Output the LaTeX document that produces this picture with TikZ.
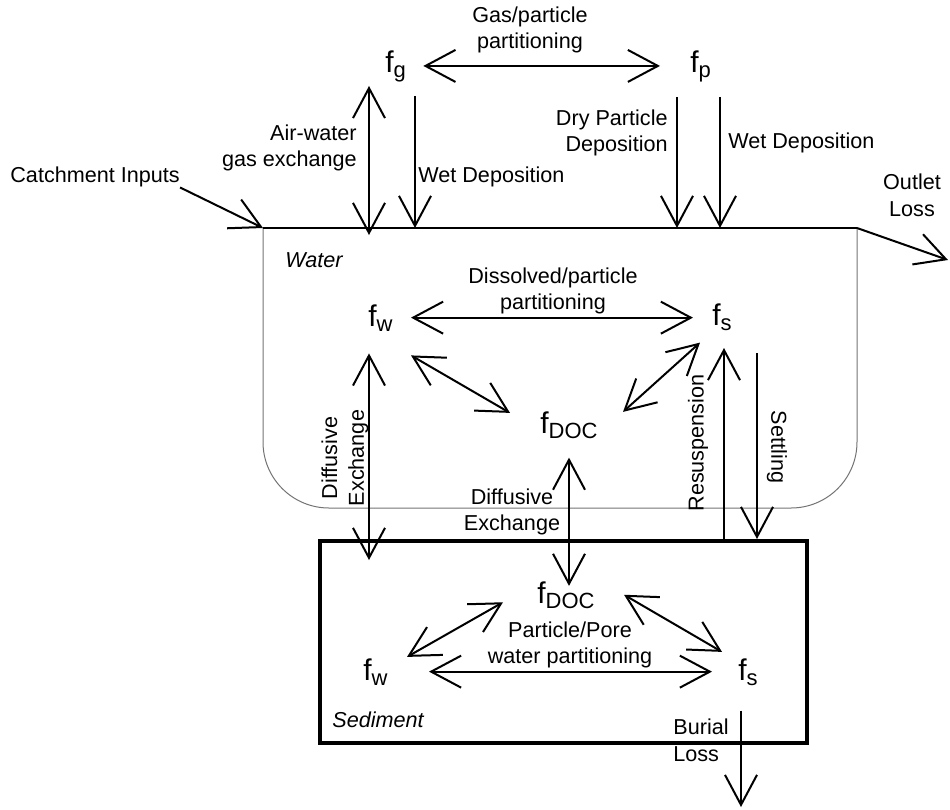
\documentclass[tikz,border=0pt]{standalone}
\usepackage{fontspec}
\setmainfont{Liberation Sans}
\usetikzlibrary{arrows.meta}
\newcommand{\fsub}[1]{f\raisebox{-2.5pt}{\fontsize{11}{11}\selectfont #1}}

\begin{document}
\begin{tikzpicture}[x=0.5pt, y=-0.5pt,
    conc/.style={inner sep=2pt, anchor=base west, font=\fontsize{15}{15}\selectfont},
    lbl/.style={inner sep=0pt, align=center, font=\fontsize{10.8}{13.4}\selectfont},
    flux/.style={{Straight Barb[length=15pt,width=16pt]}-{Straight Barb[length=15pt,width=16pt]}, line width=1pt},
    oneway/.style={-{Straight Barb[length=15pt,width=16pt]}, line width=1pt}
]
\useasboundingbox (0,0) rectangle (950,810);

% water body and sediment layer
\coordinate (wl) at (263,228);
\coordinate (wr) at (857,228);
\draw[black!55, line width=0.5pt, rounded corners=33pt] (wl) -- (263,508) -- (857,508) -- (wr);
\draw[line width=0.6pt] (wl) -- (wr);
\node[draw, line width=2pt, minimum width=243.5pt, minimum height=101pt, inner sep=0pt] (sed) at (563.5,642) {};

% fugacities
\node[conc] (fg) at (381,72) {\fsub{g}};
\node[conc] (fp) at (686,72) {\fsub{p}};
\node[conc] (fw) at (364,326) {\fsub{w}};
\node[conc] (fs) at (708,325) {\fsub{s}};
\node[conc] (fdoc) at (536,433) {\fsub{DOC}};
\node[conc] (sdoc) at (533,603) {\fsub{DOC}};
\node[conc] (sw) at (359,680) {\fsub{w}};
\node[conc] (ss) at (734,680) {\fsub{s}};

% labels
\node[lbl] (gpp) at (530,30) {Gas/particle\\partitioning};
\node[lbl, align=right, anchor=east] (awx) at (357,148) {Air-water\\gas exchange};
\node[lbl, anchor=west] (wdl) at (418,177) {Wet Deposition};
\node[lbl, align=right, anchor=east] (dpd) at (668,133) {Dry Particle\\Deposition};
\node[lbl, anchor=west] (wdr) at (728,143) {Wet Deposition};
\node[lbl, anchor=west] (catch) at (10,177) {Catchment Inputs};
\node[lbl] (outl) at (912,195) {Outlet\\Loss};
\node[lbl, anchor=west, font=\fontsize{10.8}{13.4}\selectfont\itshape] (wat) at (285,260) {Water};
\node[lbl] (dpp) at (553,291) {Dissolved/particle\\partitioning};
\node[lbl, rotate=90] (dxl) at (345,458) {Diffusive\\Exchange};
\node[lbl] (dxm) at (512,512) {Diffusive\\Exchange};
\node[lbl, rotate=90] (res) at (698,443) {Resuspension};
\node[lbl, rotate=-90] (sett) at (777,447) {Settling};
\node[lbl] (ppw) at (570,645) {Particle/Pore\\water partitioning};
\node[lbl, anchor=west, font=\fontsize{10.8}{13.4}\selectfont\itshape] (sedl) at (332,720) {Sediment};
\node[lbl, align=left, anchor=west] (bur) at (673,740) {Burial\\Loss};

% air side
\coordinate (aw) at (369,235);
\coordinate (wd1) at (415,228);
\coordinate (dd) at (677,228);
\coordinate (wd2) at (720,228);
\coordinate (oe) at (948,260);
\draw[flux, shorten <=6.5pt, shorten >=13pt] (fg.east) -- (fg.east -| fp.west);
\draw[flux] (fg.south -| aw) -- (aw);
\draw[oneway, shorten <=5pt] (fg.south -| wd1) -- (wd1);
\draw[oneway, shorten <=5.5pt] (fp.south -| dd) -- (dd);
\draw[oneway, shorten <=5.5pt] (fp.south -| wd2) -- (wd2);
\draw[oneway] (catch.south east) -- (wl);
\draw[oneway] (wr) -- (oe);

% water column
\coordinate (dxe) at (369,560);
\coordinate (rs) at (724,348);
\coordinate (st) at (757,353);
\draw[flux, shorten <=7pt, shorten >=7.5pt] (fw.east) -- (fw.east -| fs.west);
\draw[flux] ([shift={(7pt,-10pt)}]fw.south east) -- ([shift={(-13pt,-3pt)}]fdoc.north west);
\draw[flux] ([shift={(-4pt,-4pt)}]fs.south west) -- ([shift={(10.5pt,-2.5pt)}]fdoc.north east);
\draw[flux, shorten <=9pt] (fw.south -| dxe) -- (dxe);
\draw[flux, shorten <=7.5pt, shorten >=-4.5pt] (fdoc.south) -- (fdoc.south |- sdoc.north);
\draw[oneway] (sed.north -| rs) -- (rs);
\draw[oneway] (st) -- (st |- sed.north);

% sediment
\coordinate (bu) at (741,807);
\draw[flux] ([shift={(-15pt,-3.75pt)}]sdoc.west) -- ([shift={(7.5pt,-1.5pt)}]sw.north east);
\draw[flux] ([shift={(12.5pt,0pt)}]sdoc.east) -- ([shift={(-6pt,1pt)}]ss.north west);
\draw[flux, shorten <=18.5pt, shorten >=11pt] (sw.east) -- (sw.east -| ss.west);
\draw[oneway, shorten <=10.5pt] (ss.south -| bu) -- (bu);
\end{tikzpicture}
\end{document}
